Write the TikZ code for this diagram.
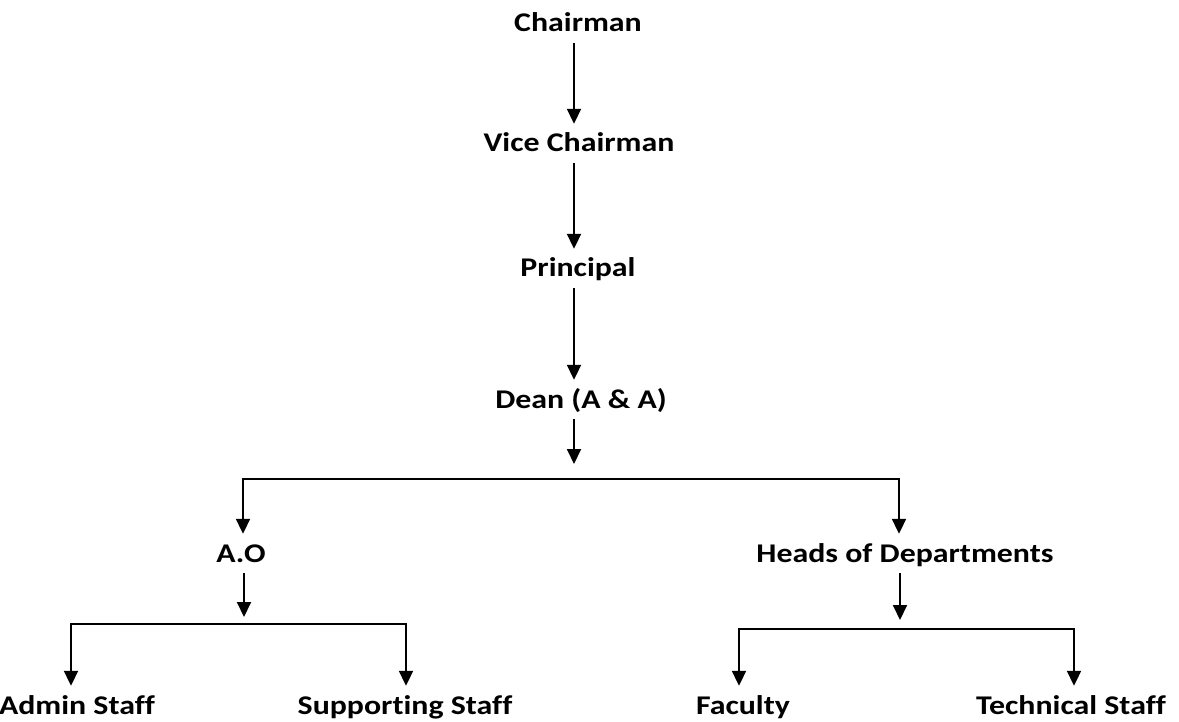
\documentclass[tikz,border=0pt]{standalone}
\usepackage{fontspec}
\setmainfont{Carlito}[FakeStretch=1.18, RawFeature=-liga]
\usetikzlibrary{arrows.meta}

\tikzset{
    post/.style={anchor=base, inner xsep=0pt, inner ysep=11pt, text height=17pt, text depth=0pt,
                 font=\fontsize{27}{30}\selectfont\bfseries},
    arr/.style={line width = 2pt, -{Triangle[length=15pt, width=14pt]}},
    bar/.style={line width = 2pt}
}

\begin{document}
\begin{tikzpicture}[x=1pt, y=1pt]
            \useasboundingbox (0,0) rectangle (1179,-722);
            % top chain
            \node[post] (chair) at (578,-32) {Chairman};
            \node[post] (vice) at (579,-152) {Vice Chairman};
            \node[post] (principal) at (578,-277) {Principal};
            \node[post] (dean) at (581,-408) {Dean (A \& A)};
            \node[post] (ao) at (241,-562) {A.O};
            \node[post] (hod) at (905,-562) {Heads of Departments};
            \node[post] (admin) at (77,-714) {Admin Staff};
            \node[post] (support) at (405,-714) {Supporting Staff};
            \node[post] (faculty) at (743,-714) {Faculty};
            \node[post] (tech) at (1071,-714) {Technical Staff};
            \coordinate (deanend) at (574,-464);
            \coordinate (bartop) at (574,-479);
            \coordinate (aoend) at (244,-617);
            \coordinate (barao) at (244,-624);
            \coordinate (hodend) at (900,-620);
            \coordinate (barhod) at (900,-629);

            \draw[arr] (chair.south -| deanend) -- (vice.north -| deanend);
            \draw[arr] (vice.south -| deanend) -- (principal.north -| deanend);
            \draw[arr] (principal.south -| deanend) -- (dean.north -| deanend);
            \draw[arr] (dean.south -| deanend) -- (deanend);
            % split to A.O and HoDs
            \draw[arr] (bartop) -| (ao.north -| 243,0);
            \draw[arr] (bartop) -| (hod.north -| 899,0);
            \draw[arr] (ao.south -| aoend) -- (aoend);
            \draw[arr] (hod.south -| hodend) -- (hodend);
            % staff rows
            \draw[arr] (barao) -| (admin.north -| 71,0);
            \draw[arr] (barao) -| (support.north -| 406,0);
            \draw[arr] (barhod) -| (faculty.north -| 739,0);
            \draw[arr] (barhod) -| (tech.north -| 1074,0);
\end{tikzpicture}
\end{document}
